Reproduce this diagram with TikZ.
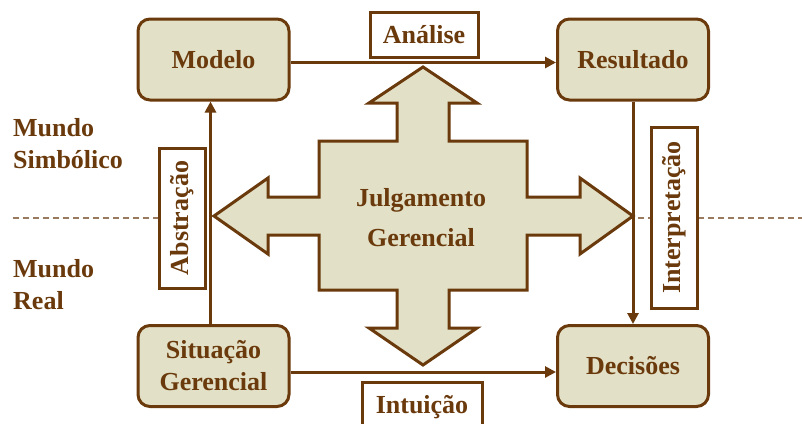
\documentclass[tikz,border=0pt]{standalone}
\usepackage{fontspec}
\setmainfont{Liberation Serif}
\usetikzlibrary{arrows.meta}
\definecolor{brn}{HTML}{6A3A0C}
\definecolor{beige}{HTML}{E2E0C6}
\definecolor{dashc}{HTML}{9A7A5E}
\tikzset{
  mainbox/.style={draw=brn, fill=beige, line width=3pt, rounded corners=12pt,
    minimum width=151pt, minimum height=81pt, inner sep=0pt, align=center,
    text=brn, font=\bfseries\fontsize{26}{32}\selectfont},
  lblbox/.style={draw=brn, fill=white, line width=3pt, inner sep=0pt,
    text=brn, font=\bfseries\fontsize{26}{32}\selectfont},
  sidetxt/.style={inner sep=0pt, align=left, text=brn,
    font=\bfseries\fontsize{26}{32}\selectfont},
  arr/.style={draw=brn, line width=3pt, -{Triangle[length=11pt,width=11pt]}},
  divider/.style={draw=dashc, line width=1.6pt, dash pattern=on 6pt off 4pt},
}
\begin{document}
\begin{tikzpicture}[x=1pt,y=-1pt]
\clip (0,0) rectangle (802,423);
\fill[white] (0,0) rectangle (802,423);

% dashed divider
\coordinate (dl1) at (13,218);
\coordinate (dl2) at (159,218);
\coordinate (dr1) at (638,218);
\coordinate (dr2) at (802,218);
\draw[divider] (dl1) -- (dl2);
\draw[divider] (dr1) -- (dr2);

% central cross
\draw[draw=brn, fill=beige, line width=3pt, line join=miter]
 (423,67) -- (477,103) -- (449,103) -- (449,141) -- (527,141) -- (527,197)
 -- (580,197) -- (580,178) -- (633,216) -- (580,254) -- (580,235) -- (527,235)
 -- (527,290) -- (449,290) -- (449,328) -- (477,328) -- (423,365) -- (369,328)
 -- (397,328) -- (397,290) -- (319,290) -- (319,235) -- (268,235) -- (268,254)
 -- (214,216) -- (268,178) -- (268,197) -- (319,197) -- (319,141) -- (397,141)
 -- (397,103) -- (369,103) -- cycle;
\node[sidetxt, align=center, font=\bfseries\fontsize{26}{40}\selectfont] (J) at (421,218) {Julgamento\\Gerencial};

% main boxes
\node[mainbox] (M) at (213.5,59.5) {Modelo};
\node[mainbox] (R) at (633,59.5) {Resultado};
\node[mainbox] (S) at (213.5,366) {Situação\\Gerencial};
\node[mainbox] (D) at (633,366) {Decisões};

% connectors
\draw[arr] ([yshift=-3pt]M.east) -- ([yshift=-3pt]R.west);
\draw[arr] ([yshift=-6pt]S.east) -- ([yshift=-6pt]D.west);
\draw[arr] ([xshift=-3pt]S.north) -- ([xshift=-3pt]M.south);
\draw[arr] (R.south) -- (D.north);

% labels
\node[lblbox, minimum width=108pt, minimum height=45pt] (an) at (424,34.5) {Análise};
\node[lblbox, minimum width=120pt, minimum height=50pt, anchor=north] (in) at (422,381) {Intuição};
\node[lblbox, rotate=90, minimum width=140pt, minimum height=46pt] (ab) at (182,218) {Abstração};
\node[lblbox, rotate=90, minimum width=181pt, minimum height=46pt] (ip) at (674,217.5) {Interpretação};

% side texts
\node[sidetxt, anchor=north west] (ms) at (13,118) {Mundo\\Simbólico};
\node[sidetxt, anchor=north west] (mr) at (13,259) {Mundo\\Real};
\end{tikzpicture}
\end{document}
